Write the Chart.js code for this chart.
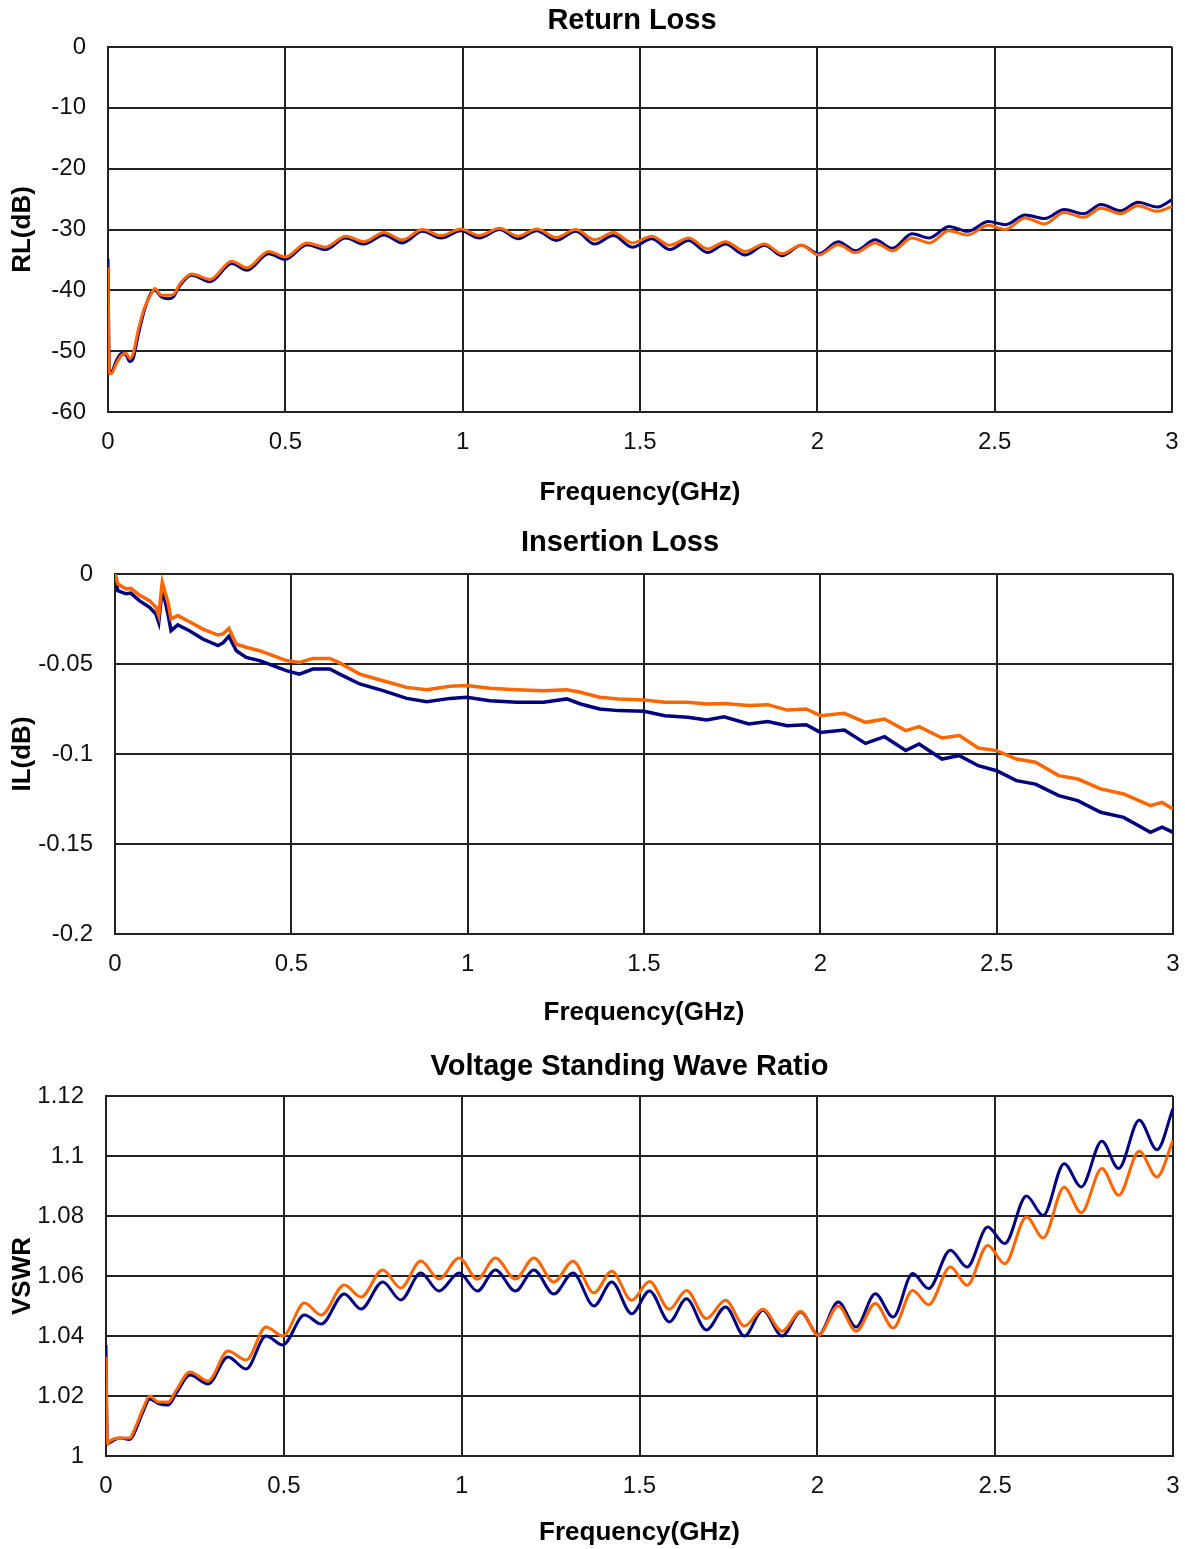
<!DOCTYPE html>
<html>
<head>
<meta charset="utf-8">
<title>Return Loss / Insertion Loss / VSWR</title>
<script src="https://cdn.jsdelivr.net/npm/chart.js@4/dist/chart.umd.min.js"></script>
<style>
  html, body { margin: 0; padding: 0; background: #fff; }
  .panel { position: absolute; left: 0; width: 1185px; }
</style>
</head>
<body>
<div class="panel" style="top:0;height:515px"><canvas id="rl-chart"></canvas></div>
<div class="panel" style="top:515px;height:520px"><canvas id="il-chart"></canvas></div>
<div class="panel" style="top:1035px;height:514px"><canvas id="vswr-chart"></canvas></div>
<script>
/* global Chart */
// shared x axis
var freqTicks = [0, 0.5, 1, 1.5, 2, 2.5, 3];

// Return loss (dB)
var rlTicks = [0, -10, -20, -30, -40, -50, -60];
var rlFreq = [0, 0.004, 0.009, 0.024, 0.038, 0.052, 0.061, 0.071, 0.085, 0.104, 0.123, 0.132, 0.151, 0.17, 0.184, 0.203,
  0.236, 0.288, 0.349, 0.392, 0.453, 0.5, 0.561, 0.613, 0.67, 0.722, 0.778, 0.83, 0.887, 0.939, 0.995, 1.047, 1.104,
  1.156, 1.209, 1.264, 1.319, 1.372, 1.425, 1.478, 1.533, 1.584, 1.637, 1.69, 1.741, 1.796, 1.851, 1.9, 1.955, 2.004,
  2.059, 2.108, 2.163, 2.212, 2.267, 2.316, 2.371, 2.424, 2.482, 2.531, 2.586, 2.641, 2.696, 2.751, 2.8, 2.855, 2.904,
  2.959, 3.0];
var rlNavy = [-34.8, -53.0, -53.4, -51.5, -50.4, -50.7, -51.7, -51.2, -47.4, -43.0, -40.3, -40.0, -41.1, -41.4, -41.1, -39.2,
  -37.5, -38.6, -35.6, -36.7, -34.0, -34.9, -32.5, -33.3, -31.4, -32.4, -30.9, -32.2, -30.3, -31.4, -30.2, -31.4, -30.0,
  -31.5, -30.2, -31.8, -30.3, -32.4, -31.0, -32.9, -31.5, -33.3, -31.8, -33.8, -32.4, -34.2, -32.6, -34.3, -32.6, -34.0,
  -32.0, -33.5, -31.7, -33.1, -30.7, -31.4, -29.5, -30.3, -28.7, -29.2, -27.6, -28.2, -26.7, -27.4, -25.9, -26.9, -25.5,
  -26.3, -25.1];
var rlOrange = [-36.2, -53.7, -53.7, -52.0, -50.7, -50.4, -51.2, -50.4, -46.6, -42.7, -40.5, -39.7, -40.8, -40.8, -40.7, -38.9,
  -37.3, -38.2, -35.2, -36.3, -33.6, -34.5, -32.2, -32.9, -31.1, -32.0, -30.5, -31.7, -30.0, -31.0, -29.9, -31.0, -29.8,
  -31.1, -29.9, -31.3, -30.0, -31.7, -30.5, -32.2, -31.1, -32.6, -31.4, -33.2, -32.0, -33.6, -32.4, -34.0, -32.6, -34.2,
  -32.5, -33.8, -32.2, -33.5, -31.4, -32.2, -30.2, -30.9, -29.3, -30.0, -28.1, -29.1, -27.2, -28.0, -26.5, -27.4, -26.1,
  -27.0, -26.2];

// Insertion loss (dB)
var ilTicks = [0, -0.05, -0.1, -0.15, -0.2];
var ilFreq = [0, 0.008, 0.031, 0.045, 0.069, 0.098, 0.116, 0.124, 0.134, 0.15, 0.159, 0.178, 0.211, 0.249, 0.292, 0.306,
  0.323, 0.344, 0.372, 0.41, 0.448, 0.486, 0.523, 0.561, 0.609, 0.637, 0.694, 0.76, 0.827, 0.884, 0.95, 0.997, 1.063,
  1.139, 1.215, 1.281, 1.32, 1.374, 1.428, 1.5, 1.559, 1.624, 1.678, 1.727, 1.797, 1.851, 1.906, 1.96, 2.0, 2.068,
  2.128, 2.182, 2.242, 2.28, 2.345, 2.394, 2.448, 2.5, 2.556, 2.61, 2.676, 2.73, 2.795, 2.86, 2.936, 2.969, 3.0];
var ilNavy = [0, -0.0093, -0.011, -0.0106, -0.0148, -0.0185, -0.0222, -0.0269, -0.008, -0.0222, -0.0315, -0.0283, -0.0315,
  -0.0361, -0.0398, -0.0383, -0.0346, -0.0426, -0.0463, -0.0481, -0.0509, -0.0537, -0.0556, -0.0528, -0.0528, -0.0556,
  -0.0611, -0.0648, -0.0691, -0.0709, -0.0691, -0.0685, -0.0704, -0.0713, -0.0713, -0.0694, -0.0722, -0.075, -0.0759,
  -0.0763, -0.0787, -0.0796, -0.0811, -0.0793, -0.0833, -0.0819, -0.0843, -0.0837, -0.088, -0.0867, -0.0941, -0.0904,
  -0.0981, -0.0944, -0.1028, -0.1009, -0.1065, -0.1093, -0.1148, -0.1167, -0.1231, -0.1259, -0.1324, -0.1352, -0.1435,
  -0.1407, -0.1435];
var ilOrange = [0, -0.0056, -0.0083, -0.008, -0.0117, -0.0148, -0.0185, -0.0231, -0.0046, -0.0157, -0.025, -0.0231, -0.0265,
  -0.0306, -0.0339, -0.0333, -0.0302, -0.039, -0.0407, -0.0426, -0.0454, -0.0481, -0.0491, -0.0469, -0.0469, -0.0494,
  -0.0556, -0.0593, -0.063, -0.0643, -0.0624, -0.062, -0.0635, -0.0643, -0.0648, -0.0643, -0.0657, -0.0685, -0.0694,
  -0.07, -0.0713, -0.0713, -0.0722, -0.0719, -0.0731, -0.0726, -0.0756, -0.075, -0.0787, -0.0774, -0.0824, -0.0806,
  -0.087, -0.0848, -0.0911, -0.0898, -0.0967, -0.0981, -0.1028, -0.1046, -0.112, -0.1139, -0.1194, -0.1222, -0.1287,
  -0.1269, -0.1306];

// VSWR
var vswrTicks = [1, 1.02, 1.04, 1.06, 1.08, 1.1, 1.12];
var vswrFreq = [0, 0.004, 0.011, 0.039, 0.067, 0.077, 0.105, 0.123, 0.147, 0.175, 0.198, 0.236, 0.287, 0.343, 0.394, 0.45,
  0.497, 0.558, 0.605, 0.67, 0.717, 0.778, 0.829, 0.885, 0.936, 0.993, 1.044, 1.095, 1.151, 1.203, 1.259, 1.313, 1.372,
  1.422, 1.478, 1.528, 1.584, 1.632, 1.688, 1.742, 1.795, 1.847, 1.901, 1.953, 2.003, 2.059, 2.109, 2.163, 2.213, 2.268,
  2.313, 2.374, 2.421, 2.479, 2.527, 2.588, 2.635, 2.694, 2.742, 2.8, 2.847, 2.905, 2.955, 3.0];
var vswrNavy = [1.037, 1.004, 1.0045, 1.006, 1.0055, 1.007, 1.015, 1.019, 1.0175, 1.017, 1.021, 1.027, 1.024, 1.033, 1.029,
  1.040, 1.037, 1.047, 1.044, 1.054, 1.049, 1.058, 1.052, 1.061, 1.055, 1.061, 1.055, 1.062, 1.055, 1.062, 1.054, 1.061,
  1.050, 1.058, 1.0474, 1.055, 1.0447, 1.0524, 1.042, 1.0497, 1.040, 1.0486, 1.040, 1.048, 1.0404, 1.0513, 1.043, 1.0541,
  1.0463, 1.0608, 1.0558, 1.0686, 1.063, 1.0763, 1.0708, 1.0867, 1.0802, 1.0974, 1.0897, 1.1049, 1.0958, 1.1119, 1.1021,
  1.1158];
var vswrOrange = [1.033, 1.004, 1.005, 1.006, 1.006, 1.008, 1.016, 1.020, 1.018, 1.018, 1.022, 1.028, 1.025, 1.035, 1.032,
  1.043, 1.040, 1.051, 1.047, 1.057, 1.053, 1.062, 1.056, 1.065, 1.059, 1.066, 1.059, 1.066, 1.059, 1.066, 1.058, 1.0649,
  1.0544, 1.0616, 1.0519, 1.0582, 1.0489, 1.0552, 1.0458, 1.0519, 1.0433, 1.0489, 1.0416, 1.0482, 1.0402, 1.050, 1.0416,
  1.0508, 1.0427, 1.0552, 1.0504, 1.063, 1.0569, 1.0702, 1.0641, 1.0797, 1.0727, 1.0896, 1.0811, 1.0958, 1.0869, 1.1016,
  1.093, 1.1052];

(function (root) {
    'use strict';

    var FONT = "'Liberation Sans', Arial, sans-serif";
    var NAVY = '#000080';
    var ORANGE = '#ff6600';
    var GRID = '#222222';

    function toPoints(xs, ys) {
        return xs.map(function (x, i) { return { x: x, y: ys[i] }; });
    }

    function fixedTicks(list) {
        return function (scale) { scale.ticks = list.map(function (v) { return { value: v }; }); };
    }

    function series(label, xs, ys, color, p) {
        return {
            label: label, data: toPoints(xs, ys), borderColor: color, backgroundColor: color,
            borderWidth: p.lineWidth, pointRadius: 0, fill: false,
            tension: 0, cubicInterpolationMode: p.smooth ? 'monotone' : 'default'
        };
    }

    // nudge the title box sideways (the original titles sit a bit left of the plot centre)
    var titleShift = {
        id: 'titleShift',
        afterLayout: function (chart, args, opts) {
            var tb = chart.titleBlock;
            if (!tb || !opts.dx) { return; }
            tb.left += opts.dx;
            tb.right += opts.dx;
        }
    };

    function makePanel(id, p) {
        var ctx = document.getElementById(id);
        if (!ctx || typeof Chart === 'undefined') { return null; }
        return new Chart(ctx, {
            type: 'line',
            data: { datasets: [
                series('B', p.freq, p.orange, ORANGE, p),
                series('A', p.freq, p.navy, NAVY, p)
            ]},
            plugins: [titleShift],
            options: {
                responsive: true, maintainAspectRatio: false, animation: false,
                layout: { padding: { left: 0, right: p.right, top: 0, bottom: 0 } },
                plugins: {
                    legend: { display: false },
                    tooltip: { enabled: false },
                    titleShift: { dx: p.titleDx },
                    title: { display: true, text: p.title, fullSize: false, color: '#000',
                        font: { family: FONT, size: 29, weight: 'bold' },
                        padding: { top: p.titleTop, bottom: p.titleBottom } }
                },
                scales: {
                    x: {
                        type: 'linear', min: 0, max: 3,
                        afterBuildTicks: fixedTicks(freqTicks),
                        // fixed axis band; edge labels may overhang into the page margin
                        afterFit: function (s) { s.height = p.xHeight; s.paddingLeft = 0; s.paddingRight = 0; },
                        grid: { color: GRID, lineWidth: 2, drawTicks: false },
                        border: { color: GRID, width: 2 },
                        ticks: { color: '#111', padding: 16, maxRotation: 0, autoSkip: false,
                            font: { family: FONT, size: 24 }, callback: function (v) { return String(v); } },
                        title: { display: true, text: 'Frequency(GHz)', color: '#000',
                            font: { family: FONT, size: 26, weight: 'bold' },
                            padding: { top: 0, bottom: p.xTitleBottom } }
                    },
                    y: {
                        type: 'linear', min: p.yMin, max: p.yMax,
                        afterBuildTicks: fixedTicks(p.yTicks),
                        afterFit: function (s) { s.width = p.left; },
                        grid: { color: GRID, lineWidth: 2, drawTicks: false },
                        border: { color: GRID, width: 2 },
                        ticks: { color: '#111', padding: 22, autoSkip: false,
                            font: { family: FONT, size: 24 }, callback: function (v) { return String(v); } },
                        title: { display: true, text: p.yTitle, color: '#000',
                            font: { family: FONT, size: 26, weight: 'bold' },
                            padding: { top: 7, bottom: 0 } }
                    }
                }
            }
        });
    }

    root.panels = [
        makePanel('rl-chart', { title: 'Return Loss', yTitle: 'RL(dB)', freq: rlFreq, navy: rlNavy, orange: rlOrange,
            yTicks: rlTicks, yMin: -60, yMax: 0, smooth: true, lineWidth: 3, left: 108, right: 13, titleDx: -8,
            titleTop: 4, titleBottom: 8.2, xHeight: 103, xTitleBottom: 6.5 }),
        makePanel('il-chart', { title: 'Insertion Loss', yTitle: 'IL(dB)', freq: ilFreq, navy: ilNavy, orange: ilOrange,
            yTicks: ilTicks, yMin: -0.2, yMax: 0, smooth: false, lineWidth: 3.5, left: 115, right: 12, titleDx: -24,
            titleTop: 10.7, titleBottom: 13.5, xHeight: 101, xTitleBottom: 6.2 }),
        makePanel('vswr-chart', { title: 'Voltage Standing Wave Ratio', yTitle: 'VSWR', freq: vswrFreq, navy: vswrNavy,
            orange: vswrOrange, yTicks: vswrTicks, yMin: 1, yMax: 1.12, smooth: true, lineWidth: 3, left: 106, right: 12,
            titleDx: -10, titleTop: 15, titleBottom: 11.2, xHeight: 93, xTitleBottom: 0.2 })
    ];
})(window);
</script>
</body>
</html>
